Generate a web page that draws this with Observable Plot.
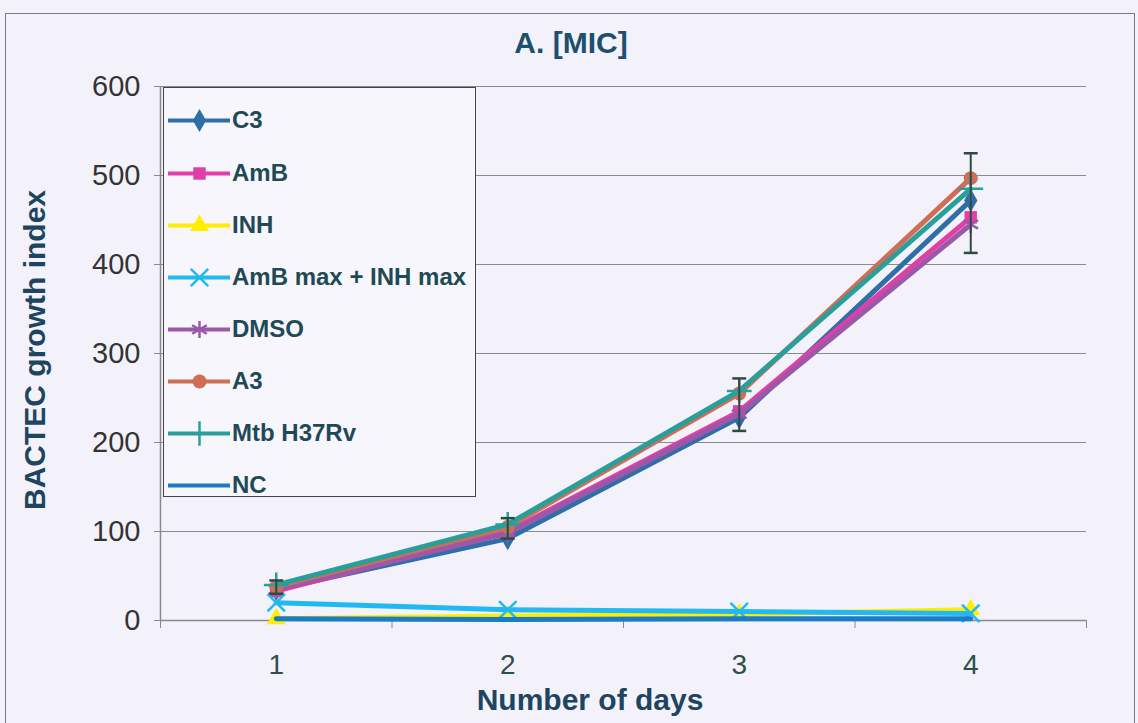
<!DOCTYPE html>
<html>
<head>
<meta charset="utf-8">
<script src="https://cdn.jsdelivr.net/npm/d3@7"></script>
<script src="https://cdn.jsdelivr.net/npm/@observablehq/plot@0.6"></script>
<style>
  html, body { margin: 0; padding: 0; background: #f3f2fa; }
  body { width: 1138px; height: 723px; position: relative; overflow: hidden; font-family: "Liberation Sans", Arial, sans-serif; }
  #frame { position: absolute; left: 5px; top: 13px; width: 1130px; height: 720px; border: 1.5px solid #7a7a80; box-sizing: border-box; }
  #chart { position: absolute; left: 0; top: 0; }
  #legend { position: absolute; left: 163px; top: 87px; width: 313px; height: 410px; background: #f7f6fc; border: 1.5px solid #444; box-sizing: border-box; }
  .item { position: absolute; left: 4px; height: 30px; display: flex; align-items: center; }
  .item span { font: bold 24px "Liberation Sans", Arial, sans-serif; color: #1f4a55; margin-left: 2px; white-space: nowrap; }
</style>
</head>
<body>
<div id="frame"></div>
<div id="chart"></div>
<div id="legend"></div>
<script>
const days = [1, 2, 3, 4];
const seriesNames = ["C3", "AmB", "INH", "AmB max + INH max", "DMSO", "A3", "Mtb H37Rv", "NC"];
const seriesColors = ["#2f6ea6", "#e23fa6", "#ffee00", "#22b8f2", "#9a58a8", "#cf6e57", "#2a9e9b", "#1a7cc6"];
const seriesSymbols = ["diamond", "square", "triangle", "times", "asterisk", "circle", "plus", null];
const valC3 = [35, 92, 228, 472];
const valAmB = [33, 100, 235, 453];
const valINH = [2, 5, 7, 12];
const valAmBINH = [20, 12, 10, 8];
const valDMSO = [35, 98, 232, 445];
const valA3 = [38, 105, 255, 497];
const valMtb = [40, 108, 258, 485];
const valNC = [2, 1, 2, 2];
const errLow = [30, 92, 213, 413];
const errHigh = [45, 115, 272, 525];
const yTicks = [0, 100, 200, 300, 400, 500, 600];
const xBounds = [0.5, 1.5, 2.5, 3.5, 4.5];

const allValues = [valC3, valAmB, valINH, valAmBINH, valDMSO, valA3, valMtb, valNC];
const data = [];
seriesNames.forEach((name, i) => days.forEach((d, j) => data.push({series: name, idx: i, day: d, value: allValues[i][j]})));
const errData = days.map((d, j) => ({day: d, low: errLow[j], high: errHigh[j]}));

const FONT = "Liberation Sans, Arial, sans-serif";
const filledSyms = new Set(["diamond", "square", "triangle", "circle"]);
const marks = [
  Plot.gridY(yTicks, {stroke: "#8a8a8a", strokeOpacity: 1, strokeWidth: 1.2}),
  Plot.ruleX([0.5], {stroke: "#8a8a8a", strokeWidth: 1.5}),
  Plot.ruleY([0], {stroke: "#8a8a8a", strokeWidth: 1.5}),
  Plot.axisY(yTicks, {tickSize: 6, tickPadding: 14, fontSize: 29, stroke: "#8a8a8a", fill: "#333", label: null, fontFamily: FONT}),
  Plot.axisX(xBounds, {tickSize: 8, tickFormat: () => "", stroke: "#8a8a8a", label: null}),
  Plot.axisX(days, {tickSize: 0, tickPadding: 34, fontSize: 28, fill: "#2d4f4a", label: null, tickFormat: d3.format("d"), fontFamily: FONT}),
];
seriesNames.forEach((name, i) => {
  const sd = data.filter(d => d.idx === i);
  marks.push(Plot.line(sd, {x: "day", y: "value", stroke: seriesColors[i], strokeWidth: 5}));
  const sym = seriesSymbols[i];
  if (sym) {
    if (filledSyms.has(sym)) marks.push(Plot.dot(sd, {x: "day", y: "value", symbol: sym, fill: seriesColors[i], r: 7}));
    else marks.push(Plot.dot(sd, {x: "day", y: "value", symbol: sym, stroke: seriesColors[i], strokeWidth: 2.5, r: 8}));
  }
});
marks.push(
  Plot.ruleX(errData, {x: "day", y1: "low", y2: "high", stroke: "#2f4a40", strokeWidth: 2}),
  Plot.link(errData, {x1: d => d.day - 0.03, x2: d => d.day + 0.03, y1: "low", y2: "low", stroke: "#2f4a40", strokeWidth: 2.5}),
  Plot.link(errData, {x1: d => d.day - 0.03, x2: d => d.day + 0.03, y1: "high", y2: "high", stroke: "#2f4a40", strokeWidth: 2.5})
);

const chart = Plot.plot({
  width: 1138, height: 723,
  marginLeft: 160, marginRight: 52, marginTop: 86, marginBottom: 103,
  style: {background: "transparent", fontFamily: FONT},
  x: {domain: [0.5, 4.5], axis: null},
  y: {domain: [0, 600], axis: null},
  marks
});
const svg = d3.select(chart);
svg.append("text").attr("x", 571).attr("y", 53).attr("text-anchor", "middle")
  .attr("font-weight", "bold").attr("font-size", 30).attr("fill", "#1d4f6e").text("A. [MIC]");
svg.append("text").attr("x", 590).attr("y", 710).attr("text-anchor", "middle")
  .attr("font-weight", "bold").attr("font-size", 30).attr("fill", "#1f4460").text("Number of days");
svg.append("text").attr("transform", "translate(45,350) rotate(-90)").attr("text-anchor", "middle")
  .attr("font-weight", "bold").attr("font-size", 30).attr("fill", "#1f4460").text("BACTEC growth index");
document.getElementById("chart").appendChild(chart);

// legend
const legend = document.getElementById("legend");
const legTops = [10, 63, 115, 167, 219, 271, 323, 375];
seriesNames.forEach((name, i) => {
  const item = document.createElement("div");
  item.className = "item";
  item.style.top = (legTops[i] + 7) + "px";
  const sym = seriesSymbols[i];
  const sw = Plot.plot({
    width: 62, height: 30, margin: 0,
    x: {domain: [0, 1], axis: null}, y: {domain: [0, 1], axis: null},
    style: {background: "transparent"},
    marks: [
      Plot.line([{x: 0, y: 0.5}, {x: 1, y: 0.5}], {x: "x", y: "y", stroke: seriesColors[i], strokeWidth: 4}),
      sym ? (filledSyms.has(sym)
        ? Plot.dot([{x: 0.5, y: 0.5}], {x: "x", y: "y", symbol: sym, fill: seriesColors[i], r: 7})
        : Plot.dot([{x: 0.5, y: 0.5}], {x: "x", y: "y", symbol: sym, stroke: seriesColors[i], strokeWidth: 2.5, r: 8})) : null
    ]
  });
  item.appendChild(sw);
  const t = document.createElement("span");
  t.textContent = name;
  item.appendChild(t);
  legend.appendChild(item);
});
</script>
</body>
</html>
